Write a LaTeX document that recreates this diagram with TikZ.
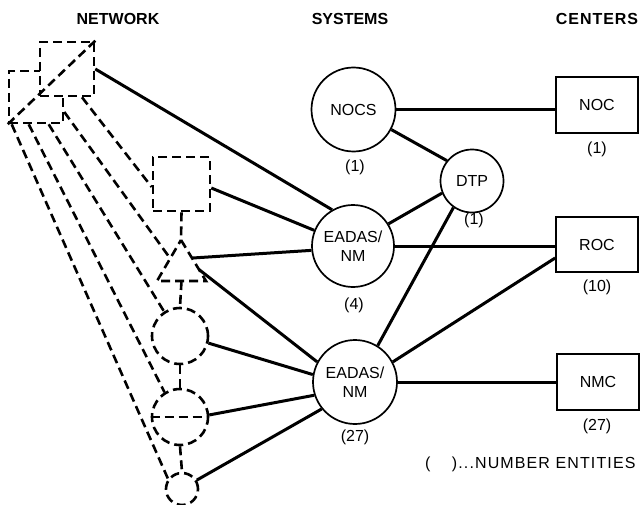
\documentclass[tikz,border=0pt]{standalone}
\usepackage{fontspec}
\setmainfont{Liberation Sans}
\usetikzlibrary{calc}
\begin{document}
\begin{tikzpicture}[x=1pt,y=-1pt,
  txt/.style={font=\fontsize{16}{18.5}\selectfont},
  head/.style={font=\fontsize{16}{18}\selectfont\bfseries},
  solidln/.style={line width=3pt},
  dashln/.style={line width=2.6pt, dash pattern=on 9pt off 5pt},
  sys/.style={circle, draw, line width=1.7pt, inner sep=0pt, txt, align=center},
  ctr/.style={rectangle, draw, line width=1.7pt, minimum width=82pt, minimum height=56pt, txt},
  netbox/.style={rectangle, draw, dashln, fill=white, inner sep=0pt},
  netcirc/.style={circle, draw, dashln, inner sep=0pt}
]
\useasboundingbox (0,0) rectangle (644,505);

% headings
\node[head] (hnet) at (118,19) {NETWORK};
\node[head] (hsys) at (350,19) {SYSTEMS};
\node[head] (hctr) at (597,19) {\addfontfeature{LetterSpace=6}CENTERS};

% network squares
\node[netbox, minimum width=54pt, minimum height=52pt] (ssq) at (36,97) {};
\node[netbox, minimum width=54pt, minimum height=54pt] (bsq) at (67,69) {};
\draw[dashln] (bsq.north east) -- (ssq.south west);

% left column
\node[netbox, minimum width=57pt, minimum height=54pt] (dsq) at (181.5,184) {};
\coordinate (tA) at (181,240);
\coordinate (tL) at (157,281);
\coordinate (tR) at (206,281);
\coordinate (tB) at (181.5,281);
\draw[dashln] (tA) -- (tR) -- (tL) -- cycle;
\node[netcirc, minimum size=56pt] (c1) at (180,336) {};
\node[netcirc, minimum size=56pt] (c2) at (180,417) {};
\node[netcirc, minimum size=32pt] (c3) at (182,489) {};
\draw[dashln] (c2.west) -- (c2.east);

\draw[dashln] (dsq.south) -- (tA);
\draw[dashln] (tB) -- (c1.north);
\draw[dashln] (c1.south) -- (c2.north);
\draw[dashln] (c2.south) -- (c3.north);

% dashed links from network squares
\draw[dashln] ([xshift=4pt]ssq.south west) -- (c3.144);
\draw[dashln] ([xshift=21pt]ssq.south west) -- (c2.122);
\draw[dashln] ([xshift=41pt]ssq.south west) -- (c1.123);
\draw[dashln] ([yshift=-15pt]ssq.east) -- ($(tA)!0.45!(tL)$);
\draw[dashln] ([xshift=15pt]bsq.south) -- ([yshift=-3pt]dsq.west);

% systems
\node[sys, minimum size=84pt] (nocs) at (353.5,109.5) {NOCS};
\node[sys, minimum size=63pt] (dtp) at (472,181) {DTP};
\node[sys, minimum size=82pt] (e1) at (353,246) {EADAS/\\NM};
\node[sys, minimum size=84pt] (e2) at (355,382) {EADAS/\\NM};
\node[txt] (lnocs) at (355,167) {(1)};
\node[txt] (ldtp) at (474,220) {(1)};
\node[txt] (le1) at (354,305) {(4)};
\node[txt] (le2) at (355,437) {(27)};

% centers
\node[ctr] (noc) at (597,105) {NOC};
\node[ctr, minimum height=55pt] (roc) at (597,244.5) {ROC};
\node[ctr] (nmc) at (598,382) {NMC};
\node[txt] (lnoc) at (597,149) {(1)};
\node[txt] (lroc) at (597,287) {(10)};
\node[txt] (lnmc) at (597,426) {(27)};

% solid links network -> systems
\draw[solidln] (bsq.east) -- (e1.120);
\draw[solidln] ([yshift=-4pt]dsq.east) -- (e1.158);
\draw[solidln] ($(tA)!0.44!(tR)$) -- (e1.186);
\draw[solidln] ($(tA)!0.72!(tR)$) -- (e2.152);
\draw[solidln] (c1.-14) -- (e2.170);
\draw[solidln] (c2.4) -- (e2.198);
\draw[solidln] (c3.31) -- (e2.219);

% systems links
\draw[solidln] (nocs.east) -- (nocs.east -| noc.west);
\draw[solidln] (nocs.-28) -- (dtp.141);
\draw[solidln] (dtp.202) -- (e1.32);
\draw[solidln] (dtp.235) -- (e2.58);
\draw[solidln] (e1.east) -- (e1.east -| roc.west);
\draw[solidln] (e2.28) -- ([yshift=-13.5pt]roc.west);
\draw[solidln] (e2.east) -- (e2.east -| nmc.west);

% legend
\node[txt, anchor=east] (leg) at (639,464) {\addfontfeature{LetterSpace=7}(\quad\ )...NUMBER ENTITIES};
\end{tikzpicture}
\end{document}
